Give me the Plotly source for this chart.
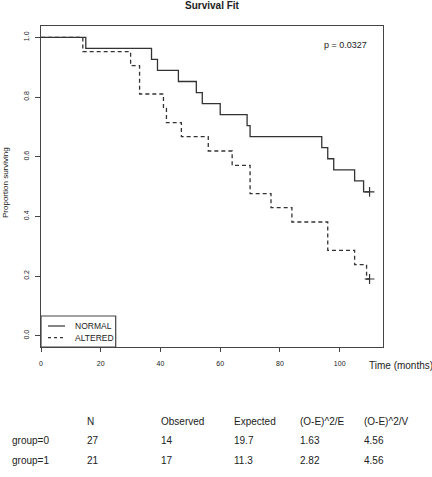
import plotly.graph_objects as go

# ---- data ----
normal_times = [0, 15, 37, 39, 46, 52, 54, 60, 69, 70, 94, 96, 98, 105, 108, 110]
normal_surv = [1.0, 0.963, 0.926, 0.889, 0.852, 0.815, 0.778, 0.741, 0.704, 0.667,
               0.630, 0.593, 0.556, 0.519, 0.482, 0.482]
normal_censor_t = [110]
normal_censor_s = [0.482]

altered_times = [0, 14, 30, 33, 41, 42, 47, 56, 64, 70, 77, 84, 96, 105, 109, 110]
altered_surv = [1.0, 0.952, 0.905, 0.810, 0.762, 0.714, 0.667, 0.619, 0.571, 0.476,
                0.429, 0.381, 0.286, 0.238, 0.190, 0.190]
altered_censor_t = [110]
altered_censor_s = [0.190]

x_ticks = [0, 20, 40, 60, 80, 100]
y_ticks = [0.0, 0.2, 0.4, 0.6, 0.8, 1.0]

p_text = "p = 0.0327"
legend_labels = ["NORMAL", "ALTERED"]

table_header = ["", "N", "Observed", "Expected", "(O-E)^2/E", "(O-E)^2/V"]
table_groups = ["group=0", "group=1"]
table_N = ["27", "21"]
table_observed = ["14", "17"]
table_expected = ["19.7", "11.3"]
table_oe2e = ["1.63", "2.82"]
table_oe2v = ["4.56", "4.56"]

# ---- figure ----
W, H = 432, 477
L, R, T, B = 41, 383, 26, 347
pw, ph = R - L, B - T


def px(x):
    return (x - L) / pw


def py(y):
    return (B - y) / ph


FONT = "Liberation Sans, Arial, sans-serif"
LC = "#333333"
TC = "#222222"

fig = go.Figure()
fig.add_trace(go.Scatter(x=normal_times, y=normal_surv, mode="lines", line_shape="hv",
                         line=dict(color=LC, width=1.3), name=legend_labels[0], showlegend=False))
fig.add_trace(go.Scatter(x=altered_times, y=altered_surv, mode="lines", line_shape="hv",
                         line=dict(color=LC, width=1.3, dash="4px,3px"), name=legend_labels[1],
                         showlegend=False))
fig.add_trace(go.Scatter(x=normal_censor_t + altered_censor_t,
                         y=normal_censor_s + altered_censor_s, mode="markers",
                         marker=dict(symbol="cross-thin", size=7,
                                     line=dict(color=LC, width=1.2)),
                         showlegend=False))

fig.update_layout(
    width=W, height=H,
    margin=dict(l=L, r=W - R, t=T, b=H - B),
    paper_bgcolor="white", plot_bgcolor="white",
    font=dict(family=FONT, color=TC),
    showlegend=False,
)
fig.update_xaxes(range=[0, 114.5], tickvals=x_ticks, ticks="outside", ticklen=4,
                 tickcolor="#444", showline=True, linecolor="#444", linewidth=1.2,
                 mirror=True, showgrid=False, zeroline=False,
                 tickfont=dict(size=7, family=FONT, color=TC), ticklabelstandoff=5)
fig.update_yaxes(range=[-0.038, 1.038], tickvals=y_ticks, tickformat=".1f",
                 ticks="outside", ticklen=5, tickcolor="#444", showline=True,
                 linecolor="#444", linewidth=1.2, mirror=True, showgrid=False,
                 zeroline=False, tickangle=-90,
                 tickfont=dict(size=7, family=FONT, color=TC), ticklabelstandoff=3)


def add_text(text, x, y, xanchor="left", size=9, angle=0):
    return dict(text=text, x=px(x), y=py(y), xref="paper", yref="paper",
                xanchor=xanchor, yanchor="middle", textangle=angle, showarrow=False,
                font=dict(size=size, family=FONT, color=TC))


ann = []
ann.append(add_text("<b>Survival Fit</b>", 212, 6, "center", 10))
ann.append(add_text(p_text, 369, 45, "right", 9))
ann.append(add_text("Proportion surviving", 5, 183, "center", 8, -90))
ann.append(add_text("Time (months)", 367, 365, "left", 10))

# legend (drawn manually)
shapes = [
    dict(type="rect", xref="paper", yref="paper", x0=0, x1=px(115.7), y0=0, y1=py(316),
         line=dict(color="#444", width=1.2)),
    dict(type="line", xref="paper", yref="paper", x0=px(48), x1=px(65), y0=py(326), y1=py(326),
         line=dict(color=LC, width=1.2)),
    dict(type="line", xref="paper", yref="paper", x0=px(48), x1=px(65), y0=py(337.7),
         y1=py(337.7), line=dict(color=LC, width=1.2, dash="3px,3px")),
]
for lab, yy in zip(legend_labels, [326, 337.7]):
    ann.append(add_text(lab, 72.7, yy, "left", 8.5))

# table
col_x = [10, 85, 159.3, 232.3, 297.7, 362.3]
row_y = [421.7, 440.7, 460]
rows = [table_header]
for i in range(len(table_groups)):
    rows.append([table_groups[i], table_N[i], table_observed[i], table_expected[i],
                 table_oe2e[i], table_oe2v[i]])
for r, yy in zip(rows, row_y):
    for c, xx in zip(r, col_x):
        if c:
            ann.append(add_text(c, xx, yy, "left", 10))

fig.update_layout(annotations=ann, shapes=shapes)
fig.write_html("out.html", config={"displayModeBar": False},
               post_script="document.body.style.margin='0';document.body.style.padding='0';")
